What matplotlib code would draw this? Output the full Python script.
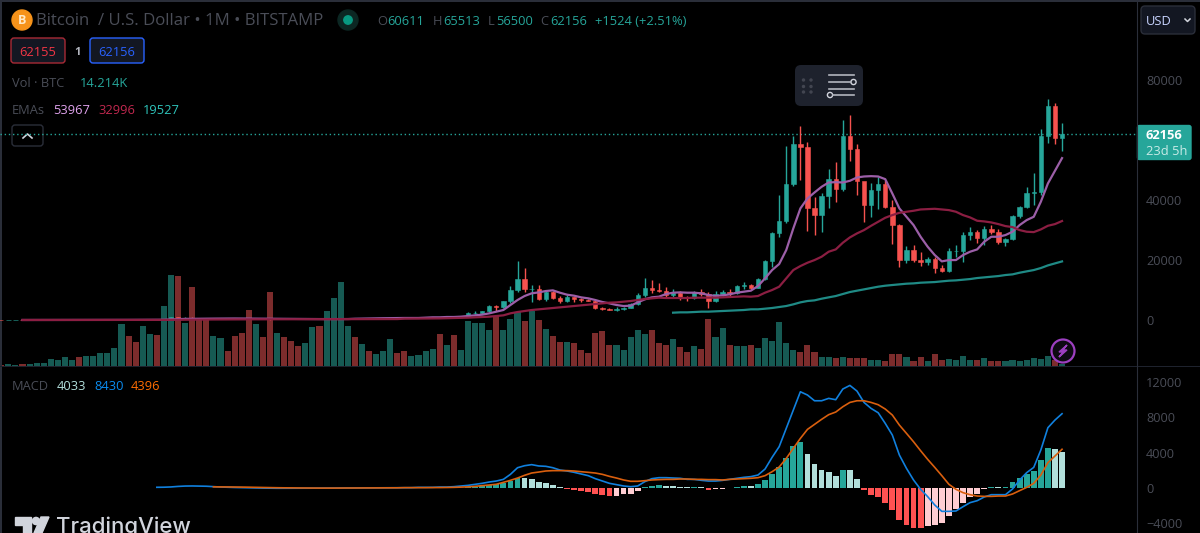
import matplotlib
matplotlib.use("Agg")
import matplotlib.pyplot as plt
from matplotlib.patches import Circle, FancyBboxPatch, Polygon, Rectangle

# monthly candles, Nov 2011 to May 2024
closes = [3, 4.7, 5.5, 4.9, 4.9, 5, 5.1, 6.7, 9, 10, 12.4, 11.2, 12.5, 13.5,
          20, 33, 93, 140, 129, 97, 106, 140, 127, 204, 1130, 750,
          800, 560, 450, 440, 630, 640, 580, 480, 390, 340, 375, 320,
          220, 255, 245, 235, 230, 262, 285, 230, 236, 315, 377, 430,
          368, 437, 416, 450, 530, 675, 625, 575, 610, 700, 745, 965,
          960, 1190, 1080, 1350, 2300, 2480, 2870, 4700, 4340, 6450, 9900, 13800,
          10200, 10300, 6900, 9200, 7500, 6400, 7700, 7000, 6600, 6300, 4000, 3700,
          3400, 3800, 4100, 5300, 8500, 10800, 10000, 9600, 8300, 9150, 7550, 7190,
          9350, 8520, 6400, 8620, 9450, 9140, 11330, 11650, 10780, 13800, 19700, 29000,
          33100, 45200, 58800, 57700, 37300, 35000, 41500, 47100, 43800, 61300, 57000, 46200,
          38500, 43200, 45500, 37700, 31800, 19900, 23300, 20100, 19400, 20500, 17200, 16500,
          23100, 23150, 28500, 29200, 27200, 30500, 29200, 26000, 27000, 34600, 37700, 42300,
          42600, 61200, 71300, 60611, 62156]
highs = [4, 5, 7, 6, 5, 6, 6, 7, 9, 16, 14, 13, 13, 14,
         20, 33, 94, 266, 140, 130, 115, 148, 140, 220, 1160, 1150,
         1000, 850, 700, 500, 650, 680, 650, 600, 510, 420, 460, 380,
         320, 265, 300, 260, 245, 265, 320, 260, 260, 330, 500, 470,
         470, 450, 440, 470, 555, 780, 700, 610, 630, 730, 760, 980,
         1150, 1260, 1130, 1360, 2780, 3000, 2900, 4950, 4980, 6500, 11400, 19700,
         17200, 11800, 11700, 9800, 9800, 8000, 8500, 7750, 7400, 6880, 6600, 4400,
         4100, 4200, 4400, 5600, 9000, 13900, 13300, 12430, 10880, 10200, 9800, 8000,
         9660, 10500, 9440, 9660, 10000, 10500, 11650, 12650, 12000, 13880, 20000, 29200,
         41660, 58000, 61300, 64770, 59200, 41100, 42200, 50300, 52800, 66650, 68300, 58700,
         46100, 45600, 47550, 46650, 40000, 31900, 24650, 25000, 22800, 20900, 21100, 18300,
         23900, 25000, 29400, 30900, 30000, 31300, 31650, 30200, 27200, 35000, 38100, 44450,
         48900, 63660, 73550, 72450, 65513]
lows = [2, 3, 4, 4, 4, 4, 4, 5, 6, 8, 8, 10, 11, 11,
        13, 19, 33, 50, 68, 80, 65, 100, 100, 120, 200, 380,
        750, 420, 350, 340, 420, 550, 560, 440, 360, 280, 320, 300,
        150, 210, 220, 210, 220, 215, 250, 200, 200, 240, 300, 350,
        350, 370, 380, 410, 450, 520, 580, 510, 570, 600, 700, 730,
        750, 920, 900, 1080, 1350, 2080, 1850, 2680, 2950, 4100, 5550, 9500,
        9300, 6100, 6600, 6500, 6950, 5750, 5900, 5900, 6000, 6216, 3550, 3200,
        3350, 3100, 3440, 4050, 5100, 7770, 9000, 9200, 7770, 7400, 6670, 6430,
        6900, 8000, 4000, 6000, 8100, 8000, 8800, 10500, 10200, 10550, 13330, 17760,
        27750, 32200, 44760, 46600, 29800, 28300, 29200, 37200, 39200, 43100, 53000, 41670,
        32800, 34200, 37000, 37200, 25300, 17550, 18900, 19300, 18000, 18440, 15800, 16100,
        16100, 21100, 19500, 26700, 25800, 25000, 28650, 25300, 24800, 26550, 34100, 37200,
        38440, 41780, 59100, 58670, 56500]
first_open = 3.2

# volume in thousands of BTC
volumes = [6, 10, 6, 10, 10, 18, 18, 44, 38, 54, 38, 54, 60, 60, 76, 76, 108, 252, 178, 144,
           242, 192, 188, 358, 546, 540, 258, 472, 290, 290, 178, 168, 92, 178, 198, 336, 252, 172, 444, 198,
           172, 150, 120, 140, 232, 242, 328, 408, 504, 242, 172, 130, 92, 72, 88, 162, 76,
           92, 60, 66, 92, 102, 194, 124, 188, 98, 270, 258, 258, 214, 300, 216, 280, 324, 268, 332, 274,
           222, 182, 144, 146, 140, 98, 76, 200, 210, 124, 124, 98, 172, 216, 194, 216, 140, 124, 162, 114,
           82, 118, 102, 280, 172, 226, 124, 118, 118,
           124, 106, 166, 148, 262, 136, 94, 84, 124, 84, 52, 52, 46, 52, 46, 46, 46, 36, 36, 32,
           70, 70, 52, 32, 52, 32, 70, 36, 42, 36, 60, 36, 36, 46, 32, 32, 32, 36, 32, 36, 46, 42, 60, 36, 14]

# fast and mid ema have nothing for the first three months
ema_start = 3
ema_fast = [5, 5, 5, 5, 5, 5, 5, 8, 8, 9, 10, 11, 14, 22, 30, 40, 46,
            52, 60, 65, 80, 200, 290, 370, 400, 410, 430, 460, 480, 500, 500, 490, 480, 470, 450, 420, 400,
            380, 360, 340, 330, 320, 310, 300, 300, 310, 320, 420, 470, 520, 570, 590, 620, 650,
            670, 670, 670, 780, 890, 890, 1000, 1000, 1110, 1330, 1550, 1780, 2220, 2780, 3330, 5000, 6660, 8000, 8890, 9210,
            9660, 9880, 9100, 8440, 8100, 7550, 7220, 6660, 6000, 5550, 5000, 4660, 4770, 5880, 6880, 7550, 7770, 8660, 9100, 9210,
            9100, 9100, 8880, 8330, 8000, 8220, 8550, 9100, 9440,
            9770, 11320, 13880, 16650, 18650, 23310, 30530, 37190, 40520, 42510, 44400, 45840, 45950, 45840, 46400, 47510,
            47840, 47950, 47840, 46950, 42180, 37190, 34410, 31640, 27750, 24420, 21650, 19540, 19980, 19980, 21650, 22760,
            23530, 26090, 27750, 27750, 28310, 29420, 31640, 33300, 34410, 39410, 45510, 49730, 53967]
ema_mid = [5, 5, 5, 5, 5, 6, 6, 7, 7, 7, 8, 8, 9, 11, 14, 18, 22,
           25, 28, 32, 35, 60, 80, 100, 130, 145, 160, 175, 190, 205, 215, 220, 225, 230, 235, 235, 235,
           235, 235, 235, 240, 240, 240, 245, 250, 255, 260, 265, 270, 275, 280, 290, 300, 310,
           450, 460, 480, 500, 520, 540, 600, 640, 700, 780, 890, 1000, 1110, 1330, 1550, 2220, 2660, 3000, 3330, 3550,
           3770, 4000, 4220, 4440, 4660, 4880, 5110, 5330, 5550, 5770, 5880, 6110, 6330, 6660, 6990, 7220, 7440, 7330, 7330, 7330,
           7330, 7440, 7440, 7440, 7440, 7550, 7660, 7770, 7880,
           7770, 7990, 9100, 9990, 11100, 13880, 16650, 17980, 19090, 19980, 21090, 22760, 23530, 25750, 27530, 28860,
           29970, 31410, 32750, 34080, 34970, 35740, 36080, 36410, 36850, 36960, 37070, 36850, 36630, 36080, 34970, 34190,
           33080, 32860, 32520, 31970, 31300, 30970, 29970, 29420, 29300, 30190, 31410, 31970, 32996]
# slow ema only starts at Oct 2019
ema_slow_start = 95
ema_slow = [2440, 2550, 2550, 2660, 2780, 2780, 2890, 3000, 3110, 3220, 3330,
            3550, 3550, 3770, 4000, 4330, 4660, 5220, 5880, 6330, 6550, 7100, 7550, 7990, 8660, 9320, 9770,
            10210, 10660, 11100, 11430, 11660, 11880, 12100, 12210, 12430, 12540, 12650, 12880, 13100, 13210, 13430, 13650,
            13990, 14210, 14430, 14650, 14990, 15210, 15760, 16210, 16650, 17320, 18200, 18870, 19527]

macd_start = 22
macd_line = [80, 90, 120, 180, 220, 230, 220, 200, 150, 110, 80, 60, 40, 20, 5, -10, -25, -30, -30, -30,
             -30, -25, -20, -15, -10, -5, 0, 5, 10, 15, 20, 25, 25, 30, 35,
             40, 40, 75, 75, 75, 110, 110, 150, 230, 300, 415, 530, 680, 790, 980, 1550, 2300, 2530, 2650, 2500,
             2460, 2300, 2040, 1930, 1780, 1590, 1400, 1060, 790, 530, 380, 230, 150, 230, 720, 1060, 1170, 1170, 1130, 1100,
             980, 980, 870, 790, 790, 870, 980, 1100, 1210,
             1290, 1470, 2150, 3480, 4690, 6770, 8850, 10920, 10550, 9900, 9900, 10170, 10020, 11230, 11640, 11000,
             9710, 9030, 8540, 7330, 6010, 3740, 2230, 910, -150, -980, -1930, -2650, -2650, -2610, -2120, -1660,
             -1440, -1020, -760, -760, -760, -110, 910, 1740, 2340, 4310, 6840, 7710, 8430]
signal_start = 30
signal_line = [130, 125, 120, 110, 100, 90, 75, 60, 45, 30, 20, 15, 5, 0, -5, -10, -10, -10, -5, 0,
               0, 5, 8, 10, 15, 18, 20,
               40, 40, 40, 40, 50, 50, 60, 75, 100, 130, 190, 270, 340, 420, 640, 870, 1130, 1440, 1700, 1810,
               1930, 1970, 1970, 1970, 1930, 1850, 1780, 1700, 1550, 1320, 1130, 910, 760, 760, 830, 910, 950, 980, 980, 1020,
               1020, 980, 980, 950, 950, 910, 980, 1020, 1060,
               1100, 1170, 1400, 1850, 2380, 3360, 4500, 5630, 6650, 7220, 7790, 8320, 8620, 9220, 9710, 9900,
               9900, 9710, 9450, 8960, 8280, 7140, 6200, 5250, 4230, 3250, 2340, 1400, 420, -150, -530, -760,
               -910, -950, -950, -910, -910, -680, -300, 70, 530, 1470, 2870, 3630, 4396]
hist_start = 30
macd_hist = [-10, -8, -7, -15, -25, -30, -38, -45, -52, -55, -50, -45, -40, -35, -30, -25, -15, -5, 5, 10,
             15, 20, 18, 22, 25, 30, 32, 28, 20, 25, 30, 25, 20, 25, 25, 35,
             100, 150, 200, 340, 490, 570, 790, 1130, 1120, 1020, 680, 570, 340, 110,
             -150, -260, -380, -450, -680, -790, -870, -860, -720, -640, -340, 150, 260, 340, 260, 255,
             150, 110, 120, 100, -260, -130, -90, -40, 150, 230, 220,
             450, 870, 1620, 2420, 3360, 4760, 5180, 3890, 2680, 2040, 1850, 1360, 2040, 2030, 1060,
             -230, -760, -980, -1660, -2460, -3670, -4200, -4500, -4510, -4270, -4200, -3970, -3140, -2420, -1660, -980,
             -680, -150, 80, 60, 110, 640, 1130, 1620, 1930, 3180, 4500, 4390, 4033]

# 60000 sits behind the last price tag in the original, so it never shows
price_ticks = [0, 20000, 40000, 80000]
macd_ticks = [-4000, 0, 4000, 8000, 12000]

GREEN = "#26a69a"
RED = "#f6524f"
GRID = "#2a2e39"
DIM = "#4a4d57"
FONT = "Open Sans"

plt.rcParams["font.family"] = FONT

W, H = 1200, 533
fig = plt.figure(figsize=(W / 100, H / 100), dpi=100, facecolor="black")


def pane(top, bottom):
    return fig.add_axes([0, 1 - bottom / H, 1137 / W, (bottom - top) / H], facecolor="black")


ax = pane(2, 366)
ax_vol = ax.twinx()
ax.set_zorder(ax_vol.get_zorder() + 1)
ax.patch.set_visible(False)
ax_macd = pane(367, 533)

x = list(range(len(closes)))
opens = [first_open] + closes[:-1]
xlim = (-0.18, 160.6)

# volume
vol_colors = ["#165a53" if c >= o else "#7c2c2c" for o, c in zip(opens, closes)]
ax_vol.bar(x, volumes, width=0.86, color=vol_colors, linewidth=0)
ax_vol.set_ylim(0, 2184)
ax_vol.axis("off")

# candles
candle_colors = [GREEN if c >= o else RED for o, c in zip(opens, closes)]
ax.vlines(x, lows, highs, colors=candle_colors, linewidth=1, zorder=3)
ax.bar(x, [abs(c - o) for o, c in zip(opens, closes)], bottom=[min(o, c) for o, c in zip(opens, closes)],
       width=0.62, color=candle_colors, edgecolor=candle_colors, linewidth=0.4, zorder=4)

# emas, later ones drawn over earlier ones
ax.plot(x[ema_start:], ema_fast, color="#9c5fa8", linewidth=1.6, zorder=5)
ax.plot(x[ema_start:], ema_mid, color="#8b1e42", linewidth=1.6, zorder=6)
ax.plot(x[ema_slow_start:], ema_slow, color="#1f8a85", linewidth=1.6, zorder=7)
ax.axhline(closes[-1], color=GREEN, linewidth=1, linestyle=(0, (1, 2)), zorder=2)

ax.set_xlim(*xlim)
ax.set_ylim(-15333, 106000)
ax.set_yticks(price_ticks)
ax.set_yticklabels([str(t) for t in price_ticks])

# macd
hist_colors = []
for i, v in enumerate(macd_hist):
    prev = macd_hist[i - 1] if i else 0
    if v >= 0:
        hist_colors.append(GREEN if v > prev else "#b2dfdb")
    else:
        hist_colors.append("#ff5252" if v < prev else "#ffcdd2")
ax_macd.bar(x[hist_start:], macd_hist, width=0.82, color=hist_colors, linewidth=0)
ax_macd.plot(x[macd_start:], macd_line, color="#1080de", linewidth=1.2, zorder=4)
ax_macd.plot(x[signal_start:], signal_line, color="#d95f0e", linewidth=1.2, zorder=5)
ax_macd.set_xlim(*xlim)
ax_macd.set_ylim(-5106, 13730)
ax_macd.set_yticks(macd_ticks)
ax_macd.set_yticklabels([str(t).replace("-", "\u2212") for t in macd_ticks])

for a in (ax, ax_macd):
    a.yaxis.tick_right()
    a.tick_params(axis="y", length=0, pad=6.5, labelsize=9.2, labelcolor=DIM)
    a.set_xticks([])
    for s in a.spines.values():
        s.set_visible(False)
    a.spines["right"].set_visible(True)
    a.spines["right"].set_color(GRID)

# everything that sits on top of the chart, in screen pixels
ui = fig.add_axes([0, 0, 1, 1], facecolor="none")
ui.set_xlim(0, W)
ui.set_ylim(H, 0)
ui.axis("off")


def label(px, py, s, color, size=9.3, **kw):
    # open sans sits a little high with va=center
    ui.text(px, py + 1.3, s, color=color, fontsize=size, va="center", ha=kw.pop("ha", "left"), **kw)


def box(x0, y0, x1, y1, face, edge, rad=3, lw=1):
    ui.add_patch(FancyBboxPatch((x0, y0), x1 - x0, y1 - y0, boxstyle=f"round,pad=0,rounding_size={rad}",
                                facecolor=face, edgecolor=edge, linewidth=lw))


# frame
ui.add_patch(Rectangle((0, 0), 1.5, H, color=GRID, linewidth=0))
ui.add_patch(Rectangle((0, 0), W, 1.5, color=GRID, linewidth=0))
ui.add_patch(Rectangle((0, 365.5), W, 1.2, color="#1e222d", linewidth=0))

# title row
ui.add_patch(Circle((22, 20), 10, color="#f7931a"))
label(22, 19, "B", "#ffe9c8", 9, ha="center", fontweight="bold")
label(36, 19.5, "Bitcoin  / U.S. Dollar \u2022 1M \u2022 BITSTAMP", DIM, 12.1)
ui.add_patch(Circle((348, 20), 10, color="#0c2723"))
ui.add_patch(Circle((348, 20), 4.2, color="#089981"))

ohlc_labels = ["O", "H", "L", "C"]
ohlc_values = ["60611", "65513", "56500", "62156"]
ohlc_letter_x = [377, 433, 488, 540]
ohlc_value_x = [387, 443, 496, 550]
for lx, vx, letter, val in zip(ohlc_letter_x, ohlc_value_x, ohlc_labels, ohlc_values):
    label(lx, 20, letter, DIM)
    label(vx, 20, val, GREEN)
label(595, 20, "+1524 (+2.51%)", GREEN)

# buy and sell boxes
box(11, 38, 65, 63, "#131722", "#a82a36")
label(38, 51, "62155", "#f23645", ha="center")
label(78, 51, "1", "#b2b5be", 8, ha="center", fontweight="bold")
box(90, 38, 144, 63, "#131722", "#2962ff")
label(117, 51, "62156", "#2962ff", ha="center")

label(12, 82, "Vol \u00b7 BTC", DIM)
label(80, 82, "14.214K", GREEN)
label(12, 109, "EMAs", DIM)
label(53, 109, "53967", "#e1a3ee")
label(98, 109, "32996", "#c2284f")
label(143, 109, "19527", "#2ec4bb")

box(12, 125, 43, 146, "#000000", GRID)
ui.plot([23, 27.5, 32], [138, 134, 138], color="#d1d4dc", linewidth=1.2)

# floating drawing toolbar
box(795, 65, 863, 106, "#1e222d", "none", rad=6)
for dx in (803.5, 811):
    for dy in (80, 86.5, 92):
        ui.add_patch(Circle((dx, dy), 1, color="#434651"))
for ly, lx0, lx1 in [(75, 829, 854), (82, 829, 851), (89, 829, 854), (95, 833, 854)]:
    ui.plot([lx0, lx1], [ly, ly], color="#b2b5be", linewidth=1.2)
ui.add_patch(Circle((853.5, 82), 2.6, facecolor="#1e222d", edgecolor="#d1d4dc", linewidth=1))
ui.add_patch(Circle((830, 95), 2.6, facecolor="#1e222d", edgecolor="#d1d4dc", linewidth=1))

# lightning badge
ui.add_patch(Circle((1063, 351), 11.5, facecolor="#0d0a12", edgecolor="#9c3fc0", linewidth=1.6))
ui.add_patch(Polygon([(1067, 345), (1059, 352), (1063, 352), (1059, 357), (1067, 350), (1063, 350)],
                     color="#9c3fc0"))

# right hand column
box(1141, 6, 1195, 34, "#131722", GRID, rad=4)
label(1146, 20, "USD", "#c8d4ff")
ui.plot([1185, 1187.5, 1190], [19, 21.5, 19], color="#d1d4dc", linewidth=1.1)
box(1137.5, 125.5, 1191, 159.5, GREEN, GREEN, rad=2)
label(1146, 134, "62156", "white", fontweight="bold")
label(1146, 150, "23d 5h", "#c8ebe7")

# macd legend
label(12, 385, "MACD", DIM)
label(57, 385, "4033", "#b2dfdb")
label(94, 385, "8430", "#0a8cf0")
label(131, 385, "4396", "#ff6d00")

# logo
ui.add_patch(Polygon([(15, 517), (31, 517), (31, 533), (23, 533), (23, 525), (15, 525)], color="#d1d4dc"))
ui.add_patch(Circle((36, 521), 3.6, color="#d1d4dc"))
ui.add_patch(Polygon([(41, 517), (49, 517), (42, 533), (34, 533)], color="#d1d4dc"))
ui.text(56, 533, "TradingView", color="#d1d4dc", fontsize=16, family="Inter", fontweight="medium",
        va="baseline", clip_on=True)

fig.savefig("out.png", dpi=100, facecolor="black")
